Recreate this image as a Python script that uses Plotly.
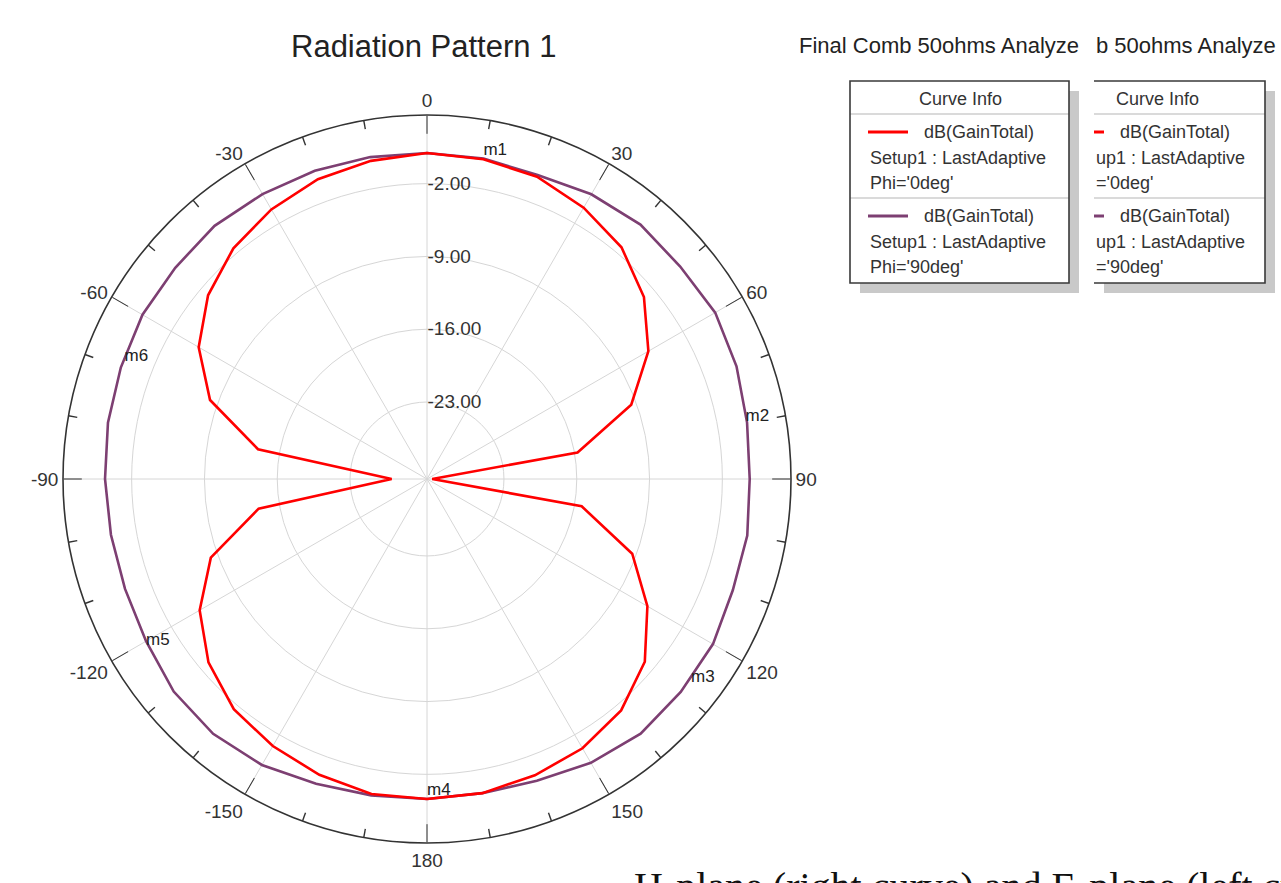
import plotly.graph_objects as go

# ---- data -------------------------------------------------------------
theta_deg = [-180, -170, -160, -150, -140, -130, -120, -110, -100, -90,
             -80, -70, -60, -50, -40, -30, -20, -10, 0,
             10, 20, 30, 40, 50, 60, 70, 80, 90,
             100, 110, 120, 130, 140, 150, 160, 170, 180]

# dB(GainTotal), Phi = 0deg
gain_phi0 = [0.37, 0.35, -0.13, -0.75, -1.50, -2.97, -5.16, -8.28, -13.96, -27.0,
             -13.9, -8.2, -5.05, -2.92, -1.44, -0.47, 0.27, 0.66, 0.95,
             0.82, 0.53, -0.28, -1.31, -3.17, -5.82, -9.5, -15.7, -29.9,
             -15.3, -9.4, -5.93, -3.06, -1.36, -0.50, -0.08, 0.27, 0.37]

# dB(GainTotal), Phi = 90deg
gain_phi90 = [0.37, 0.49, 0.78, 1.35, 1.59, 1.39, 0.79, 0.50, 0.46, 0.56,
              0.75, 0.93, 1.19, 1.20, 1.38, 1.23, 1.14, 1.03, 0.95,
              0.88, 0.70, 1.21, 1.53, 1.38, 1.60, 1.27, 0.85, 0.63,
              0.87, 0.89, 1.35, 1.45, 1.56, 1.11, 0.48, 0.27, 0.37]

radial_ticks = [-23.0, -16.0, -9.0, -2.0]
angle_ticks = [0, 30, 60, 90, 120, 150, 180, 210, 240, 270, 300, 330]
angle_labels = ["0", "30", "60", "90", "120", "150", "180",
                "-150", "-120", "-90", "-60", "-30"]
minor_angles = [a for a in range(0, 360, 10) if a % 30 != 0]

marker_names = ["m1", "m2", "m3", "m4", "m5", "m6"]
marker_theta = [10, 79, 127, 180, -120, -68]
marker_r = [0.82, 0.80, 1.40, 0.37, 0.79, 0.96]

R_MIN, R_MAX = -30.4, 4.6

RED = "#ff0000"
PURPLE = "#7d3f72"
TXT = "#333333"
FONT = "Liberation Sans, Arial, sans-serif"

W, H = 1281, 883


def px(x):
    return x / W


def py(y):
    return 1 - y / H


fig = go.Figure()

# short minor ticks every 10 degrees on the rim
mt_theta, mt_r = [], []
for a in minor_angles:
    mt_theta += [a, a, None]
    mt_r += [R_MAX, R_MAX - 0.85, None]
fig.add_trace(go.Scatterpolar(
    r=mt_r, theta=mt_theta, mode="lines",
    line=dict(color=TXT, width=1.4),
    hoverinfo="skip", showlegend=False, cliponaxis=False))

fig.add_trace(go.Scatterpolar(
    r=gain_phi90, theta=theta_deg, mode="lines",
    line=dict(color=PURPLE, width=2.6),
    name="Phi='90deg'", showlegend=False))

fig.add_trace(go.Scatterpolar(
    r=gain_phi0, theta=theta_deg, mode="lines",
    line=dict(color=RED, width=2.6),
    name="Phi='0deg'", showlegend=False))

fig.add_trace(go.Scatterpolar(
    r=marker_r, theta=marker_theta, mode="text",
    text=marker_names,
    textposition=["top right", "middle right", "middle right",
                  "top right", "middle right", "middle right"],
    textfont=dict(family=FONT, size=17, color="#222222"),
    hoverinfo="skip", showlegend=False, cliponaxis=False))

fig.update_layout(
    width=W, height=H, autosize=False,
    margin=dict(l=0, r=0, t=0, b=0),
    paper_bgcolor="white",
    polar=dict(
        domain=dict(x=[px(63), px(791)], y=[py(843), py(115)]),
        bgcolor="white",
        angularaxis=dict(
            rotation=90, direction="clockwise",
            tickmode="array", tickvals=angle_ticks, ticktext=angle_labels,
            ticks="inside", ticklen=18, tickwidth=1.4, tickcolor=TXT,
            showline=True, linecolor=TXT, linewidth=1.6,
            showgrid=True, gridcolor="#d6d6d6", gridwidth=1,
            tickfont=dict(family=FONT, size=19, color=TXT),
        ),
        radialaxis=dict(
            range=[R_MIN, R_MAX], angle=90, tickangle=90,
            tickmode="array", tickvals=radial_ticks,
            ticktext=["%.2f" % v for v in radial_ticks],
            showline=False, ticks="",
            showgrid=True, gridcolor="#d6d6d6", gridwidth=1,
            tickfont=dict(family=FONT, size=19, color=TXT),
        ),
    ),
)

annotations = []
shapes = []


def text(x, y, s, size=18, anchor="left", color=TXT, family=FONT):
    annotations.append(dict(
        x=px(x), y=py(y), xref="paper", yref="paper", text=s,
        showarrow=False, xanchor=anchor, yanchor="middle",
        font=dict(family=family, size=size, color=color)))


# titles
text(423, 47, "Radiation Pattern 1", size=31, anchor="center", color="#222222")
text(797, 45, "Final Comb 50ohms Analyze", size=22, color="#222222")
text(1094, 45, "b 50ohms Analyze", size=22, color="#222222")

# curve-info boxes
SHADOW = "#c9c9c9"
for (x0, x1) in [(850, 1069), (1094, 1265)]:
    shapes.append(dict(type="rect", xref="paper", yref="paper",
                       x0=px(x0 + 10), x1=px(x1 + 10), y0=py(293), y1=py(91),
                       fillcolor=SHADOW, line=dict(width=0), layer="above"))
    shapes.append(dict(type="rect", xref="paper", yref="paper",
                       x0=px(x0), x1=px(x1), y0=py(283), y1=py(81),
                       fillcolor="white", line=dict(width=0), layer="above"))
    for ys in (114, 198):
        shapes.append(dict(type="line", xref="paper", yref="paper",
                           x0=px(x0), x1=px(x1), y0=py(ys), y1=py(ys),
                           line=dict(color="#b5b5b5", width=1.2), layer="above"))

# first box: full border
shapes.append(dict(type="rect", xref="paper", yref="paper",
                   x0=px(850), x1=px(1069), y0=py(283), y1=py(81),
                   line=dict(color="#3a3a3a", width=1.6), layer="above"))
# second box: left edge cut off
shapes.append(dict(type="path", xref="paper", yref="paper",
                   path="M %f,%f L %f,%f L %f,%f L %f,%f" % (
                       px(1094), py(81), px(1265), py(81),
                       px(1265), py(283), px(1094), py(283)),
                   line=dict(color="#3a3a3a", width=1.6), layer="above"))

# legend swatches
for (x0, x1, y, c) in [(868, 908, 132, RED), (868, 908, 216, PURPLE),
                       (1094, 1104, 132, RED), (1094, 1104, 216, PURPLE)]:
    shapes.append(dict(type="line", xref="paper", yref="paper",
                       x0=px(x0), x1=px(x1), y0=py(y), y1=py(y),
                       line=dict(color=c, width=3), layer="above"))

text(961, 99, "Curve Info", anchor="center")
text(922, 132, "dB(GainTotal)")
text(868, 158, "Setup1 : LastAdaptive")
text(868, 183, "Phi='0deg'")
text(922, 216, "dB(GainTotal)")
text(868, 242, "Setup1 : LastAdaptive")
text(868, 267, "Phi='90deg'")

text(1157, 99, "Curve Info", anchor="center")
text(1118, 132, "dB(GainTotal)")
text(1094, 158, "up1 : LastAdaptive")
text(1094, 183, "='0deg'")
text(1118, 216, "dB(GainTotal)")
text(1094, 242, "up1 : LastAdaptive")
text(1094, 267, "='90deg'")

# caption running off the bottom edge
annotations.append(dict(
    x=px(632), y=py(862), xref="paper", yref="paper",
    text="H-plane (right curve) and E-plane (left curve)",
    showarrow=False, xanchor="left", yanchor="top",
    font=dict(family="Liberation Serif, Times New Roman, serif", size=40,
              color="#111111")))

fig.update_layout(annotations=annotations, shapes=shapes)

fig.write_html("out.html")
